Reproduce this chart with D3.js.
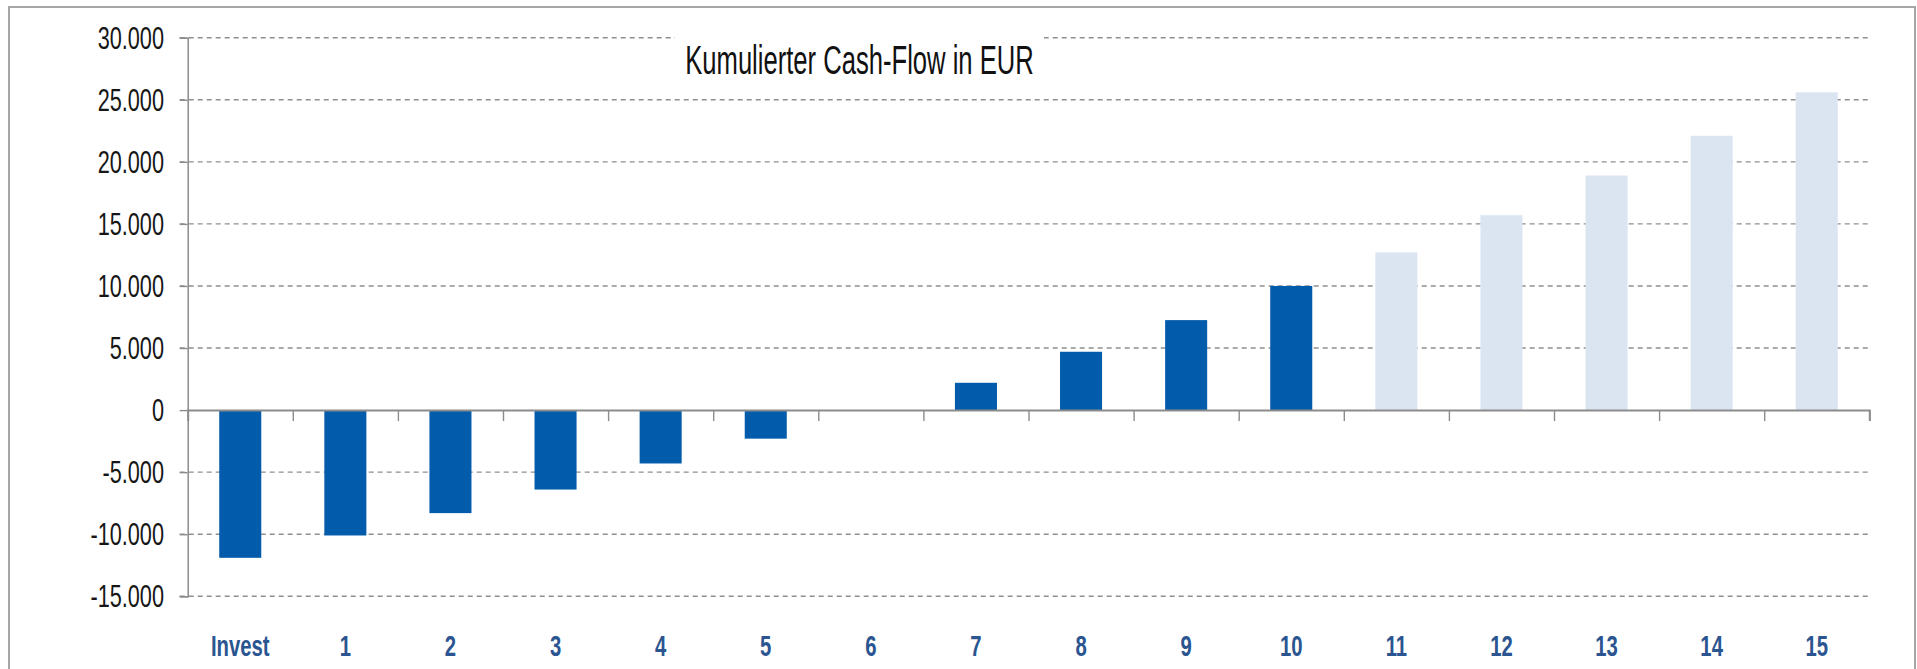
<!DOCTYPE html>
<html>
<head>
<meta charset="utf-8">
<script src="https://cdn.jsdelivr.net/npm/d3@7"></script>
<style>
  body { margin: 0; background: #fff; }
  svg { display: block; font-family: "Liberation Sans", Arial, sans-serif; }
</style>
</head>
<body>
<div id="chart"></div>
<script>
// Data
var categories = ["Invest", "1", "2", "3", "4", "5", "6", "7", "8", "9", "10", "11", "12", "13", "14", "15"]
var cumulativeCashFlow = [-11900, -10100, -8300, -6400, -4300, -2300, 0, 2200, 4700, 7250, 10000, 12700, 15700, 18900, 22100, 25600]
var forecastCategories = ["11", "12", "13", "14", "15"]
var yTicks = [-15000, -10000, -5000, 0, 5000, 10000, 15000, 20000, 25000, 30000]
var chartTitle = "Kumulierter Cash-Flow in EUR"

// Dimensions
var W = 1917, H = 669
var plot = { left: 187.7, right: 1869.3, top: 37.7, bottom: 596.3 }
var textScale = 0.7

var deFormat = d3.formatLocale({ decimal: ",", thousands: ".", grouping: [3], currency: ["", " €"], minus: "-" }).format(",.0f")

var svg = d3.select("#chart").append("svg")
  .attr("width", W)
  .attr("height", H)

// outer frame
svg.append("rect")
  .attr("x", 9).attr("y", 7)
  .attr("width", 1906).attr("height", 700)
  .attr("fill", "#fff")
  .attr("stroke", "#a6a6a6")
  .attr("stroke-width", 2)

// Scales
var x = d3.scaleBand()
  .domain(categories)
  .range([plot.left, plot.right])
  .paddingInner(0.6)
  .paddingOuter(0.3)

var xBounds = d3.scaleLinear()
  .domain([0, categories.length])
  .range([plot.left, plot.right])

var y = d3.scaleLinear()
  .domain([-15000, 30000])
  .range([plot.bottom, plot.top])

// Gridlines
svg.append("g")
  .attr("class", "grid")
  .selectAll("line")
  .data(yTicks.filter(d => d !== 0))
  .enter().append("line")
  .attr("x1", plot.left - 8)
  .attr("x2", plot.right)
  .attr("y1", d => y(d))
  .attr("y2", d => y(d))
  .attr("stroke", "#8f8f8f")
  .attr("stroke-width", 1.4)
  .attr("stroke-dasharray", "5,4")

// Title (white box breaks the top gridline)
var tx = 859.5
svg.append("rect")
  .attr("x", 675).attr("y", 28)
  .attr("width", 369).attr("height", 62)
  .attr("fill", "#fff")
svg.append("text")
  .attr("transform", `translate(${tx},74) scale(0.64,1)`)
  .attr("text-anchor", "middle")
  .attr("font-size", 40)
  .attr("fill", "#111")
  .text(chartTitle)

// Bars
svg.append("g")
  .attr("class", "bars")
  .selectAll("rect")
  .data(categories.map((c, i) => ({ cat: c, value: cumulativeCashFlow[i] })))
  .enter().append("rect")
  .attr("x", d => x(d.cat))
  .attr("width", x.bandwidth())
  .attr("y", d => y(Math.max(0, d.value)))
  .attr("height", d => Math.abs(y(d.value) - y(0)))
  .attr("fill", d => forecastCategories.includes(d.cat) ? "#dbe5f1" : "#035cab")

// Y axis
function yAxis(g) {
  g.call(d3.axisLeft(y).tickValues(yTicks).tickSize(8).tickFormat(deFormat))
  g.select(".domain").attr("stroke", "#8c8c8c").attr("stroke-width", 1.5)
  g.selectAll(".tick line").attr("stroke", "#8c8c8c").attr("stroke-width", 1.4)
  g.selectAll(".tick text")
    .attr("font-size", 31)
    .attr("fill", "#161616")
    .attr("x", -23.7 / textScale)
    .attr("dy", "0.34em")
    .attr("transform", `scale(${textScale},1)`)
}
svg.append("g")
  .attr("class", "y axis")
  .attr("transform", `translate(${plot.left},0)`)
  .call(yAxis)

// Zero line with category boundary ticks
function zeroAxis(g) {
  g.call(d3.axisBottom(xBounds).tickValues(d3.range(1, categories.length + 1)).tickSize(11).tickFormat(""))
  g.select(".domain").attr("stroke", "#8c8c8c").attr("stroke-width", 2)
  g.selectAll(".tick line").attr("stroke", "#8c8c8c").attr("stroke-width", 1.4)
}
svg.append("g")
  .attr("class", "x axis zero")
  .attr("transform", `translate(0,${y(0)})`)
  .call(zeroAxis)

// Category labels at the bottom
function xLabels(g) {
  g.call(d3.axisBottom(x).tickSize(0))
  g.select(".domain").remove()
  g.selectAll(".tick text")
    .attr("y", 60)
    .attr("dy", 0)
    .attr("font-size", 29)
    .attr("font-weight", "bold")
    .attr("fill", "#2a5590")
    .attr("transform", `scale(${textScale},1)`)
}
svg.append("g")
  .attr("class", "x axis labels")
  .attr("transform", `translate(0,${plot.bottom})`)
  .call(xLabels)
</script>
</body>
</html>
